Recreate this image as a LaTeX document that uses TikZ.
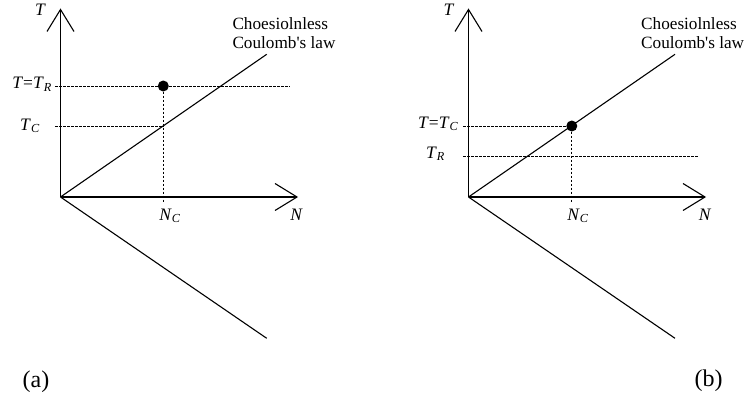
\documentclass[tikz,border=0pt]{standalone}
\usepackage{fontspec}
\setmainfont{Liberation Serif}
\newcommand{\lbl}{\fontsize{17.5}{20}\selectfont}
\newcommand{\itsub}[1]{\textsubscript{\textit{#1}}}
\tikzset{
  axisline/.style={line width=1.1pt, line join=miter},
  curveline/.style={line width=1.1pt},
  guide/.style={line width=0.75pt, dash pattern=on 2.6pt off 1.4pt},
  dotmark/.style={circle, fill=black, inner sep=0pt, minimum size=11pt},
  axlabel/.style={inner sep=0pt, font=\lbl},
  lawtext/.style={inner sep=0pt, align=left, anchor=north west, font=\fontsize{17.2}{19.3}\selectfont},
  panellabel/.style={inner sep=0pt, anchor=base, font=\fontsize{24}{26}\selectfont}
}
\begin{document}
\begin{tikzpicture}[x=1pt,y=-1pt]
\useasboundingbox (0,0) rectangle (744,396);
% ---------- panel (a) ----------
\coordinate (aO) at (60.5,197);
\coordinate (aTtop) at (60.5,9.5);
\coordinate (aNend) at (297,197);
\coordinate (aTl) at (47,31.5);
\coordinate (aTr) at (74,31.5);
\coordinate (aNu) at (275,183.5);
\coordinate (aNd) at (275,210.5);
\coordinate (aLaw) at (266.7,54.3);
\coordinate (aLow) at (266.7,338.3);
\coordinate (aRl) at (55,86);
\coordinate (aRr) at (290,86);
\coordinate (aCl) at (55,126);
\coordinate (aCx) at (163.3,126);
\coordinate (aNc) at (163.3,202);
\draw[axisline] (aO) -- (aTtop);
\draw[axisline] (aTl) -- (aTtop) -- (aTr);
\draw[axisline] (aO) -- (aNend);
\draw[axisline] (aNu) -- (aNend) -- (aNd);
\draw[curveline] (aO) -- (aLaw);
\draw[curveline] (aO) -- (aLow);
\node[dotmark] (adot) at (163.3,86) {};
\draw[guide] (aRl) -- (adot) -- (aRr);
\draw[guide] (aCl) -- (aCx);
\draw[guide] (adot) -- (aNc);
\node[axlabel, anchor=base] (aT) at (40.5,16) {\textit{T}};
\node[axlabel, anchor=base east] (aTR) at (52,88.5) {\textit{T}=\textit{T}\itsub{R}};
\node[axlabel, anchor=base east] (aTC) at (40,130) {\textit{T}\itsub{C}};
\node[axlabel, anchor=base] (aNC) at (170,220) {\textit{N}\itsub{C}};
\node[axlabel, anchor=base] (aN) at (296.5,220) {\textit{N}};
\node[lawtext] (alaw) at (232.3,17.5) {Choesiolnless\\Coulomb\textquotesingle s law};
\node[panellabel] (apl) at (36,387.5) {(a)};
% ---------- panel (b) ----------
\begin{scope}[xshift=408pt]
\coordinate (bO) at (60.5,197);
\coordinate (bTtop) at (60.5,9.5);
\coordinate (bNend) at (297,197);
\coordinate (bTl) at (47,31.5);
\coordinate (bTr) at (74,31.5);
\coordinate (bNu) at (275,183.5);
\coordinate (bNd) at (275,210.5);
\coordinate (bLaw) at (267,54.3);
\coordinate (bLow) at (267,338.3);
\coordinate (bCl) at (55,126);
\coordinate (bRl) at (55,156);
\coordinate (bRr) at (290,156);
\coordinate (bNc) at (163.8,202);
\draw[axisline] (bO) -- (bTtop);
\draw[axisline] (bTl) -- (bTtop) -- (bTr);
\draw[axisline] (bO) -- (bNend);
\draw[axisline] (bNu) -- (bNend) -- (bNd);
\draw[curveline] (bO) -- (bLaw);
\draw[curveline] (bO) -- (bLow);
\node[dotmark] (bdot) at (163.8,126) {};
\draw[guide] (bCl) -- (bdot);
\draw[guide] (bRl) -- (bRr);
\draw[guide] (bdot) -- (bNc);
\node[axlabel, anchor=base] (bT) at (41,16) {\textit{T}};
\node[axlabel, anchor=base east] (bTC) at (50.5,128.3) {\textit{T}=\textit{T}\itsub{C}};
\node[axlabel, anchor=base east] (bTR) at (37,158) {\textit{T}\itsub{R}};
\node[axlabel, anchor=base] (bNC) at (170,220) {\textit{N}\itsub{C}};
\node[axlabel, anchor=base] (bN) at (297,220) {\textit{N}};
\node[lawtext] (blaw) at (233,17.5) {Choesiolnless\\Coulomb\textquotesingle s law};
\node[panellabel] (bpl) at (300.5,386.7) {(b)};
\end{scope}
\end{tikzpicture}
\end{document}
